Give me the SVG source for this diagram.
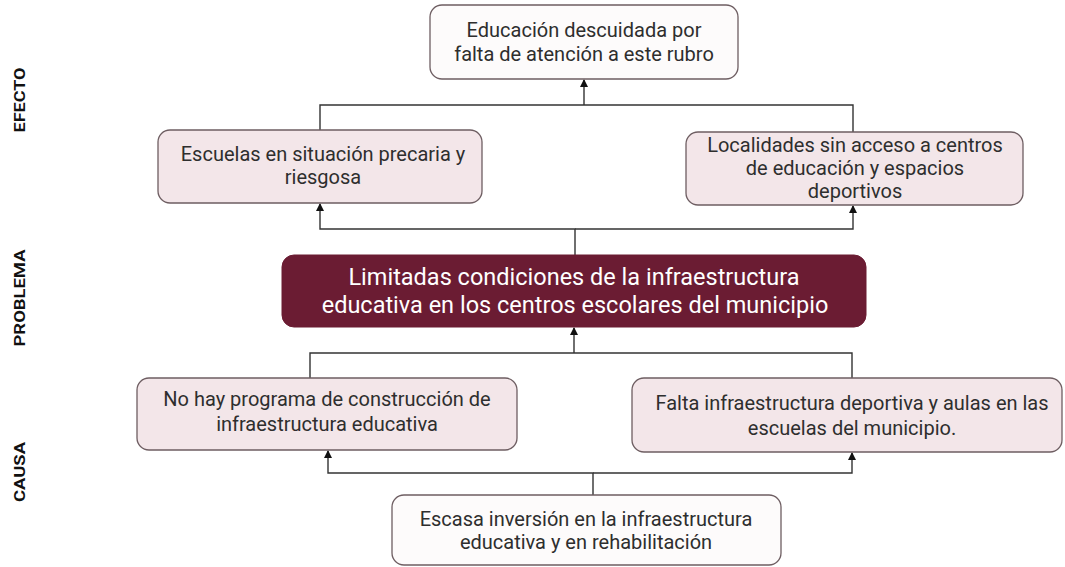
<svg xmlns="http://www.w3.org/2000/svg" width="1065" height="567" viewBox="0 0 1065 567">
<style>
.box{stroke:#6e5e62;stroke-width:1.3}
.pink{fill:#f3e6e9}
.white{fill:#fdfbfb}
.prob{fill:#6b1c33;stroke:#6b1c33}
.t{font-family:Roboto,"Liberation Sans",sans-serif;font-size:20px;fill:#2e2e2e;text-anchor:middle}
.tw{font-family:Roboto,"Liberation Sans",sans-serif;font-size:23.5px;fill:#ffffff;text-anchor:middle}
.side{font-family:Roboto,"Liberation Sans",sans-serif;font-size:15px;font-weight:bold;fill:#111;text-anchor:middle}
.ln{fill:none;stroke:#333;stroke-width:1.4}
</style>
<defs>
<marker id="ah" markerWidth="8" markerHeight="8" refX="7" refY="4" orient="auto" markerUnits="userSpaceOnUse">
<path d="M0,0 L8,4 L0,8 Z" fill="#111"/>
</marker>
</defs>
<rect width="1065" height="567" fill="#ffffff"/>
<g id="labels">
<text class="side" transform="translate(25,100) rotate(-90)" textLength="65" lengthAdjust="spacingAndGlyphs">EFECTO</text>
<text class="side" transform="translate(25,298) rotate(-90)" textLength="97" lengthAdjust="spacingAndGlyphs">PROBLEMA</text>
<text class="side" transform="translate(25,472) rotate(-90)" textLength="60" lengthAdjust="spacingAndGlyphs">CAUSA</text>
</g>
<g id="connectors">
<path class="ln" d="M320,130 V105 H853 V132"/>
<path class="ln" d="M584,105 V80" marker-end="url(#ah)"/>
<path class="ln" d="M575,255 V229 H320 V204" marker-end="url(#ah)"/>
<path class="ln" d="M575,229 H853 V206" marker-end="url(#ah)"/>
<path class="ln" d="M310,378 V353 H852 V378"/>
<path class="ln" d="M574,353 V328" marker-end="url(#ah)"/>
<path class="ln" d="M593,495 V473 H328 V451" marker-end="url(#ah)"/>
<path class="ln" d="M593,473 H852 V453" marker-end="url(#ah)"/>
</g>
<g id="n_top">
<rect class="box white" x="430" y="5" width="308" height="74" rx="12"/>
<text class="t" x="584" y="37">Educación descuidada por</text>
<text class="t" x="584" y="61">falta de atención a este rubro</text>
</g>
<g id="n_eff_left">
<rect class="box pink" x="158" y="130" width="324" height="73" rx="12"/>
<text class="t" x="323" y="161">Escuelas en situación precaria y</text>
<text class="t" x="323" y="184">riesgosa</text>
</g>
<g id="n_eff_right">
<rect class="box pink" x="686" y="132" width="337" height="73" rx="12"/>
<text class="t" x="855" y="152">Localidades sin acceso a centros</text>
<text class="t" x="855" y="175">de educación y espacios</text>
<text class="t" x="855" y="198">deportivos</text>
</g>
<g id="n_problem">
<rect class="prob" x="282" y="255" width="584" height="72" rx="12"/>
<text class="tw" x="574" y="285">Limitadas condiciones de la infraestructura</text>
<text class="tw" x="575" y="313">educativa en los centros escolares del municipio</text>
</g>
<g id="n_cause_left">
<rect class="box pink" x="137" y="378" width="380" height="72" rx="12"/>
<text class="t" x="327" y="406">No hay programa de construcción de</text>
<text class="t" x="327" y="431">infraestructura educativa</text>
</g>
<g id="n_cause_right">
<rect class="box pink" x="632" y="378" width="430" height="74" rx="12"/>
<text class="t" x="852" y="410">Falta infraestructura deportiva y aulas en las</text>
<text class="t" x="852" y="435">escuelas del municipio.</text>
</g>
<g id="n_bottom">
<rect class="box white" x="392" y="495" width="389" height="70" rx="12"/>
<text class="t" x="586" y="526">Escasa inversión en la infraestructura</text>
<text class="t" x="586" y="549">educativa y en rehabilitación</text>
</g>
</svg>
